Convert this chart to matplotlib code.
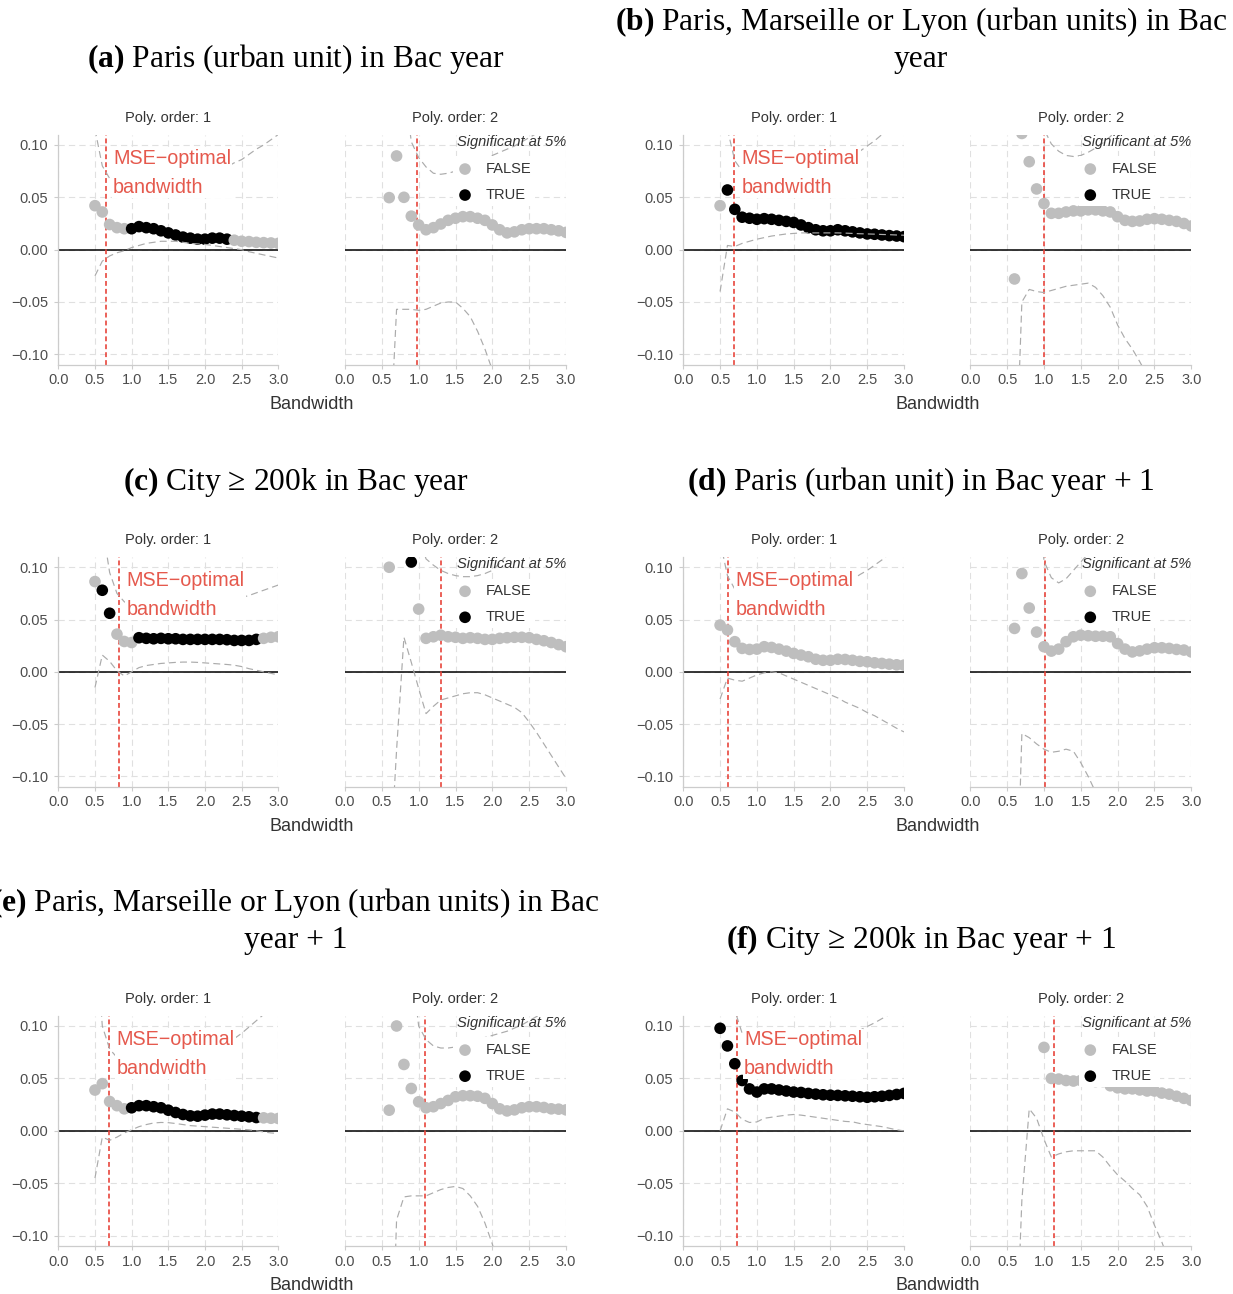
import numpy as np
import matplotlib
matplotlib.use("Agg")
import matplotlib.pyplot as plt
from matplotlib.patches import Rectangle

plt.rcParams['font.family'] = ['Liberation Sans', 'DejaVu Sans']
plt.rcParams['mathtext.fontset'] = 'custom'
plt.rcParams['mathtext.rm'] = 'Liberation Serif'
plt.rcParams['mathtext.bf'] = 'Liberation Serif:bold'
plt.rcParams['lines.scale_dashes'] = False

# ---------------- data ----------------
BANDWIDTH = [0.5, 0.6, 0.7, 0.8, 0.9, 1.0, 1.1, 1.2, 1.3, 1.4, 1.5, 1.6, 1.7,
             1.8, 1.9, 2.0, 2.1, 2.2, 2.3, 2.4, 2.5, 2.6, 2.7, 2.8, 2.9, 3.0]
X_TICKS = [0.0, 0.5, 1.0, 1.5, 2.0, 2.5, 3.0]
Y_TICKS = [-0.10, -0.05, 0.00, 0.05, 0.10]
LEGEND_LABELS = ["FALSE", "TRUE"]

TITLES = [
    ["$\\mathbf{(a)}$ Paris (urban unit) in Bac year"],
    ["$\\mathbf{(b)}$ Paris, Marseille or Lyon (urban units) in Bac", "year"],
    ["$\\mathbf{(c)}$ City \u2265 200k in Bac year"],
    ["$\\mathbf{(d)}$ Paris (urban unit) in Bac year + 1"],
    ["$\\mathbf{(e)}$ Paris, Marseille or Lyon (urban units) in Bac", "year + 1"],
    ["$\\mathbf{(f)}$ City \u2265 200k in Bac year + 1"],
]

# MSE-optimal bandwidths (poly 1, poly 2)
a_bw = [0.645, 0.974]
b_bw = [0.693, 1.005]
c_bw = [0.826, 1.305]
d_bw = [0.612, 1.009]
e_bw = [0.690, 1.092]
f_bw = [0.725, 1.140]

N = None
# ---- (a) ----
a1_est = [0.042, 0.036, 0.024, 0.021, 0.020, 0.020, 0.022, 0.021, 0.020, 0.018, 0.016, 0.014, 0.012,
          0.011, 0.010, 0.010, 0.011, 0.011, 0.010, 0.009, 0.008, 0.0077, 0.007, 0.0067, 0.0064, 0.006]
a1_sig = [0, 0, 0, 0, 0, 1, 1, 1, 1, 1, 1, 1, 1, 1, 1, 1, 1, 1, 1, 0, 0, 0, 0, 0, 0, 0]
a1_hi = [0.115, 0.080, 0.068, 0.063, 0.061, 0.060, 0.0595, 0.059, 0.059, 0.059, 0.059, 0.060, 0.061,
         0.062, 0.064, 0.067, 0.071, 0.075, 0.079, 0.083, 0.086, 0.091, 0.096, 0.100, 0.105, 0.110]
a1_lo = [-0.025, -0.011, -0.006, -0.003, -0.001, 0.002, 0.004, 0.006, 0.007, 0.008, 0.008, 0.008, 0.007,
         0.006, 0.0055, 0.005, 0.004, 0.003, 0.002, 0.001, 0.000, -0.002, -0.0035, -0.005, -0.0065, -0.008]
a2_est = [N, 0.0497, 0.0895, 0.050, 0.032, 0.0236, 0.019, 0.021, 0.0245, 0.028, 0.030, 0.0315, 0.0315,
          0.030, 0.028, 0.0236, 0.019, 0.016, 0.017, 0.019, 0.020, 0.020, 0.020, 0.019, 0.018, 0.0165]
a2_sig = [0] * 26
a2_hi = [N, N, 0.25, 0.16, 0.103, 0.088, 0.079, 0.073, 0.072, 0.073, 0.075, 0.078, 0.081,
         0.084, 0.087, 0.090, 0.093, 0.096, 0.099, 0.103, 0.107, 0.111, 0.115, 0.119, 0.123, 0.127]
a2_lo = [N, -0.2, -0.057, -0.057, -0.057, -0.058, -0.057, -0.054, -0.051, -0.050, -0.050, -0.056, -0.064,
         -0.078, -0.095, -0.115, -0.135, -0.155, N, N, N, N, N, N, N, N]
# ---- (b) ----
b1_est = [0.042, 0.057, 0.0385, 0.031, 0.030, 0.029, 0.0296, 0.029, 0.028, 0.027, 0.026, 0.0236, 0.021,
          0.019, 0.018, 0.018, 0.019, 0.018, 0.017, 0.016, 0.015, 0.0147, 0.014, 0.0134, 0.013, 0.0124]
b1_sig = [0, 1, 1, 1, 1, 1, 1, 1, 1, 1, 1, 1, 1, 1, 1, 1, 1, 1, 1, 1, 1, 1, 1, 1, 1, 1]
b1_hi = [0.2, 0.115, 0.085, 0.075, 0.071, 0.070, 0.070, 0.070, 0.0705, 0.071, 0.072, 0.073, 0.0745,
         0.076, 0.0775, 0.079, 0.082, 0.086, 0.090, 0.094, 0.099, 0.104, 0.110, 0.116, 0.122, 0.128]
b1_lo = [-0.040, 0.004, 0.003, 0.006, 0.008, 0.010, 0.0115, 0.013, 0.014, 0.015, 0.0155, 0.016, 0.016,
         0.016, 0.016, 0.016, 0.016, 0.0158, 0.0155, 0.0152, 0.015, 0.0148, 0.0145, 0.0143, 0.014, 0.0138]
b2_est = [N, -0.028, 0.111, 0.084, 0.058, 0.044, 0.0347, 0.0347, 0.036, 0.037, 0.037, 0.038, 0.038,
          0.037, 0.036, 0.0315, 0.028, 0.027, 0.0274, 0.029, 0.0296, 0.029, 0.028, 0.027, 0.025, 0.0226]
b2_sig = [0] * 26
b2_hi = [N, 0.4, 0.35, 0.3, 0.2, 0.115, 0.101, 0.094, 0.090, 0.089, 0.090, 0.093, 0.097,
         0.102, 0.108, 0.115, 0.122, 0.130, N, N, N, N, N, N, N, N]
b2_lo = [N, -0.25, -0.05, -0.038, -0.040, -0.041, -0.039, -0.037, -0.035, -0.034, -0.033, -0.032, -0.036,
         -0.044, -0.055, -0.072, -0.085, -0.095, -0.107, -0.12, -0.135, N, N, N, N, N]
# ---- (c) ----
c1_est = [0.0863, 0.078, 0.056, 0.036, 0.029, 0.028, 0.0326, 0.032, 0.0316, 0.032, 0.0316, 0.0316, 0.031,
          0.031, 0.031, 0.031, 0.031, 0.031, 0.0307, 0.030, 0.030, 0.030, 0.031, 0.032, 0.033, 0.0335]
c1_sig = [0, 1, 1, 0, 0, 0, 1, 1, 1, 1, 1, 1, 1, 1, 1, 1, 1, 1, 1, 1, 1, 1, 1, 0, 0, 0]
c1_hi = [0.3, 0.14, 0.095, 0.075, 0.067, 0.063, 0.062, 0.061, 0.061, 0.061, 0.0615, 0.062, 0.0625,
         0.063, 0.0635, 0.064, 0.065, 0.066, 0.0675, 0.069, 0.071, 0.073, 0.0755, 0.078, 0.0805, 0.083]
c1_lo = [-0.015, 0.016, 0.010, 0.001, -0.004, 0.000, 0.004, 0.006, 0.007, 0.008, 0.0085, 0.009, 0.0093,
         0.0093, 0.009, 0.0085, 0.008, 0.0075, 0.007, 0.0063, 0.005, 0.003, 0.0015, 0.000, -0.0015, -0.003]
c2_est = [N, 0.100, N, N, 0.105, 0.060, 0.032, 0.0335, 0.035, 0.0335, 0.033, 0.032, 0.0326,
          0.032, 0.031, 0.031, 0.032, 0.0326, 0.033, 0.033, 0.0326, 0.031, 0.0297, 0.028, 0.026, 0.024]
c2_sig = [0, 0, 0, 0, 1, 0, 0, 0, 0, 0, 0, 0, 0, 0, 0, 0, 0, 0, 0, 0, 0, 0, 0, 0, 0, 0]
c2_hi = [N, N, N, 0.3, 0.2, 0.13, 0.108, 0.102, 0.097, 0.094, 0.092, 0.091, 0.091,
         0.092, 0.094, 0.097, 0.104, 0.112, 0.120, N, N, N, N, N, N, N]
c2_lo = [N, -0.2, -0.075, 0.033, 0.009, -0.016, -0.040, -0.033, -0.027, -0.025, -0.023, -0.021, -0.020,
         -0.020, -0.022, -0.025, -0.028, -0.031, -0.034, -0.039, -0.048, -0.058, -0.069, -0.080, -0.091, -0.102]
# ---- (d) ----
d1_est = [0.0447, 0.040, 0.0288, 0.0224, 0.0214, 0.0217, 0.024, 0.0233, 0.0217, 0.0198, 0.0176, 0.016, 0.0144,
          0.012, 0.011, 0.011, 0.012, 0.0118, 0.011, 0.010, 0.0096, 0.0086, 0.008, 0.0073, 0.0067, 0.0064]
d1_sig = [0] * 26
d1_hi = [0.125, 0.092, 0.079, 0.071, 0.066, 0.062, 0.061, 0.060, 0.060, 0.060, 0.061, 0.063, 0.065,
         0.068, 0.071, 0.075, 0.079, 0.084, 0.088, 0.093, 0.097, 0.102, 0.107, 0.113, 0.118, 0.124]
d1_lo = [-0.026, -0.006, -0.008, -0.009, -0.006, -0.003, -0.001, 0.000, -0.001, -0.004, -0.007, -0.010, -0.013,
         -0.016, -0.019, -0.022, -0.025, -0.029, -0.032, -0.035, -0.039, -0.042, -0.046, -0.050, -0.054, -0.0575]
d2_est = [N, 0.0415, 0.094, 0.061, 0.038, 0.024, 0.0198, 0.0217, 0.0288, 0.0335, 0.035, 0.0345, 0.034,
          0.034, 0.0335, 0.027, 0.0217, 0.019, 0.020, 0.0217, 0.023, 0.023, 0.0224, 0.0214, 0.0208, 0.019]
d2_sig = [0] * 26
d2_hi = [N, N, 0.4, 0.3, 0.2, 0.106, 0.090, 0.085, 0.089, 0.097, 0.105, 0.113, 0.121,
         N, N, N, N, N, N, N, N, N, N, N, N, N]
d2_lo = [N, -0.3, -0.059, -0.063, -0.069, -0.074, -0.077, -0.076, -0.074, -0.076, -0.087, -0.100, -0.115,
         -0.13, N, N, N, N, N, N, N, N, N, N, N, N]
# ---- (e) ----
e1_est = [0.0389, 0.045, 0.028, 0.024, 0.021, 0.022, 0.024, 0.024, 0.023, 0.022, 0.0197, 0.0175, 0.0156,
          0.0143, 0.014, 0.015, 0.016, 0.016, 0.0153, 0.0146, 0.014, 0.0134, 0.0127, 0.0124, 0.012, 0.0118]
e1_sig = [0, 0, 0, 0, 0, 1, 1, 1, 1, 1, 1, 1, 1, 1, 1, 1, 1, 1, 1, 1, 1, 1, 1, 0, 0, 0]
e1_hi = [0.2, 0.10, 0.078, 0.070, 0.066, 0.064, 0.063, 0.062, 0.062, 0.062, 0.0625, 0.063, 0.064,
         0.065, 0.067, 0.070, 0.074, 0.078, 0.083, 0.088, 0.093, 0.099, 0.105, 0.111, 0.117, 0.123]
e1_lo = [-0.045, -0.006, -0.009, -0.006, -0.002, 0.001, 0.004, 0.006, 0.0075, 0.008, 0.0078, 0.007, 0.006,
         0.005, 0.0045, 0.004, 0.0035, 0.003, 0.0025, 0.002, 0.0015, 0.001, 0.000, -0.001, -0.002, -0.0025]
e2_est = [N, 0.0197, 0.100, 0.0633, 0.0404, 0.0277, 0.022, 0.023, 0.026, 0.029, 0.0325, 0.0335, 0.0335,
          0.033, 0.031, 0.026, 0.021, 0.019, 0.020, 0.022, 0.023, 0.023, 0.0223, 0.021, 0.0207, 0.020]
e2_sig = [0] * 26
e2_hi = [N, N, 0.4, 0.3, 0.16, 0.100, 0.087, 0.081, 0.079, 0.079, 0.080, 0.082, 0.085,
         0.087, 0.089, 0.091, 0.093, 0.095, 0.098, 0.101, 0.105, 0.109, 0.113, 0.117, N, N]
e2_lo = [N, -0.3, -0.085, -0.063, -0.062, -0.062, -0.062, -0.059, -0.056, -0.054, -0.053, -0.055, -0.062,
         -0.072, -0.088, -0.108, -0.13, N, N, N, N, N, N, N, N, N]
# ---- (f) ----
f1_est = [0.0978, 0.081, 0.064, 0.048, 0.040, 0.037, 0.040, 0.040, 0.039, 0.038, 0.037, 0.0366, 0.0357,
          0.035, 0.0344, 0.034, 0.0338, 0.0334, 0.033, 0.0325, 0.032, 0.0325, 0.033, 0.0338, 0.0347, 0.0357]
f1_sig = [1] * 26
f1_hi = [0.3, 0.2, 0.115, 0.093, 0.082, 0.078, 0.077, 0.076, 0.076, 0.076, 0.077, 0.078, 0.0795,
         0.081, 0.083, 0.085, 0.0875, 0.090, 0.093, 0.096, 0.0995, 0.103, 0.107, 0.111, 0.115, 0.119]
f1_lo = [0.000, 0.021, 0.018, 0.011, 0.008, 0.0085, 0.012, 0.013, 0.014, 0.015, 0.0156, 0.015, 0.014,
         0.013, 0.012, 0.011, 0.010, 0.009, 0.0086, 0.007, 0.006, 0.005, 0.004, 0.0025, 0.001, 0.000]
f2_est = [N, N, N, N, N, 0.0796, 0.050, 0.0494, 0.048, 0.0475, 0.048, 0.048, 0.047,
          0.047, 0.043, 0.041, 0.040, 0.040, 0.039, 0.038, 0.038, 0.036, 0.035, 0.033, 0.031, 0.029]
f2_sig = [0] * 26
f2_hi = [N] * 26
f2_lo = [N, -0.25, -0.066, 0.021, 0.012, -0.008, -0.025, -0.022, -0.020, -0.019, -0.019, -0.019, -0.019,
         -0.025, -0.034, -0.042, -0.048, -0.055, -0.061, -0.072, -0.090, -0.106, -0.125, N, N, N]

PANELS = [
    (TITLES[0], a_bw, [(a1_est, a1_sig, a1_lo, a1_hi), (a2_est, a2_sig, a2_lo, a2_hi)]),
    (TITLES[1], b_bw, [(b1_est, b1_sig, b1_lo, b1_hi), (b2_est, b2_sig, b2_lo, b2_hi)]),
    (TITLES[2], c_bw, [(c1_est, c1_sig, c1_lo, c1_hi), (c2_est, c2_sig, c2_lo, c2_hi)]),
    (TITLES[3], d_bw, [(d1_est, d1_sig, d1_lo, d1_hi), (d2_est, d2_sig, d2_lo, d2_hi)]),
    (TITLES[4], e_bw, [(e1_est, e1_sig, e1_lo, e1_hi), (e2_est, e2_sig, e2_lo, e2_hi)]),
    (TITLES[5], f_bw, [(f1_est, f1_sig, f1_lo, f1_hi), (f2_est, f2_sig, f2_lo, f2_hi)]),
]

# ---------------- style / layout ----------------
W, H, DPI = 1233, 1294, 100
COLS = [(58.3, 278.3, 345.0, 566.0), (683.3, 904.0, 970.3, 1191.3)]
ROWS = [(134.5, 364.8), (556.8, 786.8), (1015.5, 1246.2)]
TITLE_X = [296, 921]
TITLE_BASE = [67, 490, 948]
TITLE_LS = 37

GRAY_PT = '#BEBEBE'
RED_LINE = '#E8453C'
RED_TXT = '#E5594D'
CI_COL = '#ABABAB'
GRID_COL = '#E0E0E0'
AX_COL = '#CCCCCC'
TXT_COL = '#4D4D4D'
STRIP_COL = '#333333'
PT_S = 70

fig = plt.figure(figsize=(W / DPI, H / DPI), dpi=DPI)
fig.patch.set_facecolor('white')


def add_ax(x0, x1, y0, y1):
    return fig.add_axes([x0 / W, 1 - y1 / H, (x1 - x0) / W, (y1 - y0) / H])


def draw_facet(ax, est, sig, lo, hi, vbw, order):
    bw = np.array(BANDWIDTH)
    est = np.array(est, dtype=float)
    lo = np.array(lo, dtype=float)
    hi = np.array(hi, dtype=float)
    ax.set_xlim(0, 3)
    ax.set_ylim(-0.11, 0.11)
    ax.set_xticks(X_TICKS)
    ax.set_xticklabels([f"{v:.1f}" for v in X_TICKS])
    ax.set_yticks(Y_TICKS)
    ax.set_yticklabels([f"{v:.2f}".replace('-', '\u2212') for v in Y_TICKS])
    ax.grid(True, color=GRID_COL, linewidth=0.8, linestyle=(0, (4.5, 3)))
    ax.set_axisbelow(True)
    for s in ['top', 'right']:
        ax.spines[s].set_visible(False)
    ax.spines['bottom'].set_color(AX_COL)
    ax.spines['bottom'].set_linewidth(0.9)
    ax.spines['left'].set_color(AX_COL)
    ax.spines['left'].set_linewidth(0.9)
    ax.tick_params(axis='x', length=3, color=AX_COL, labelsize=10.5, labelcolor=TXT_COL, pad=3.2)
    ax.tick_params(axis='y', length=3, color=AX_COL, labelsize=10.5, labelcolor=TXT_COL, pad=4.3)
    if order == 2:
        ax.spines['left'].set_visible(False)
        ax.tick_params(axis='y', left=False, labelleft=False)
    ax.axhline(0, color='black', lw=1.1, zorder=2)
    ax.axvline(vbw, color=RED_LINE, lw=1.2, dashes=(3.5, 2.2), zorder=2.5)
    cols = ['black' if s else GRAY_PT for s in sig]
    ax.scatter(bw, est, c=cols, s=PT_S, edgecolors='none', zorder=3)
    ax.plot(bw, lo, color=CI_COL, lw=0.85, dashes=(5, 3), zorder=3.5)
    ax.plot(bw, hi, color=CI_COL, lw=0.85, dashes=(5, 3), zorder=3.5)
    ax.text(0.5, 1.0716, f"Poly. order: {order}", transform=ax.transAxes, ha='center',
            va='center', fontsize=10.5, color=STRIP_COL)
    if order == 1:
        ax.text(vbw + 0.1, 0.0735, "MSE\u2212optimal\nbandwidth", color=RED_TXT, fontsize=14.2,
                ha='left', va='center', linespacing=1.64,
                bbox=dict(facecolor='white', edgecolor='none', pad=1.0), zorder=4)
    else:
        ax.text(1.0, 0.967, "Significant at 5%", transform=ax.transAxes, ha='right',
                va='center', fontsize=10.5, style='italic', color=STRIP_COL, zorder=6)
        ax.add_patch(Rectangle((0.49, 0.69), 0.37, 0.215, transform=ax.transAxes,
                               facecolor='white', edgecolor='none', zorder=5))
        for lab, col, yy in [(LEGEND_LABELS[0], GRAY_PT, 0.85), (LEGEND_LABELS[1], 'black', 0.737)]:
            ax.scatter([0.543], [yy], transform=ax.transAxes, s=PT_S, color=col,
                       edgecolors='none', zorder=6, clip_on=False)
            ax.text(0.638, yy, lab, transform=ax.transAxes, ha='left', va='center',
                    fontsize=10.5, color=STRIP_COL, zorder=6)


for i, (title, vbws, facets) in enumerate(PANELS):
    col, row = i % 2, i // 2
    x0a, x1a, x0b, x1b = COLS[col]
    y0, y1 = ROWS[row]
    ax1 = add_ax(x0a, x1a, y0, y1)
    ax2 = add_ax(x0b, x1b, y0, y1)
    draw_facet(ax1, *facets[0], vbws[0], 1)
    draw_facet(ax2, *facets[1], vbws[1], 2)
    # x-axis title
    fig.text(((x0a + x1b) / 2) / W, 1 - (y1 + 39.5) / H, "Bandwidth", ha='center', va='center',
             fontsize=13, color=STRIP_COL)
    # panel title
    nl = len(title)
    for k, line in enumerate(title):
        yb = TITLE_BASE[row] - (nl - 1 - k) * TITLE_LS
        fig.text(TITLE_X[col] / W, 1 - yb / H, line, ha='center', va='baseline',
                 fontsize=22.7, family=['Liberation Serif', 'DejaVu Serif'], color='black')

fig.savefig('out.png', dpi=DPI, facecolor='white')
